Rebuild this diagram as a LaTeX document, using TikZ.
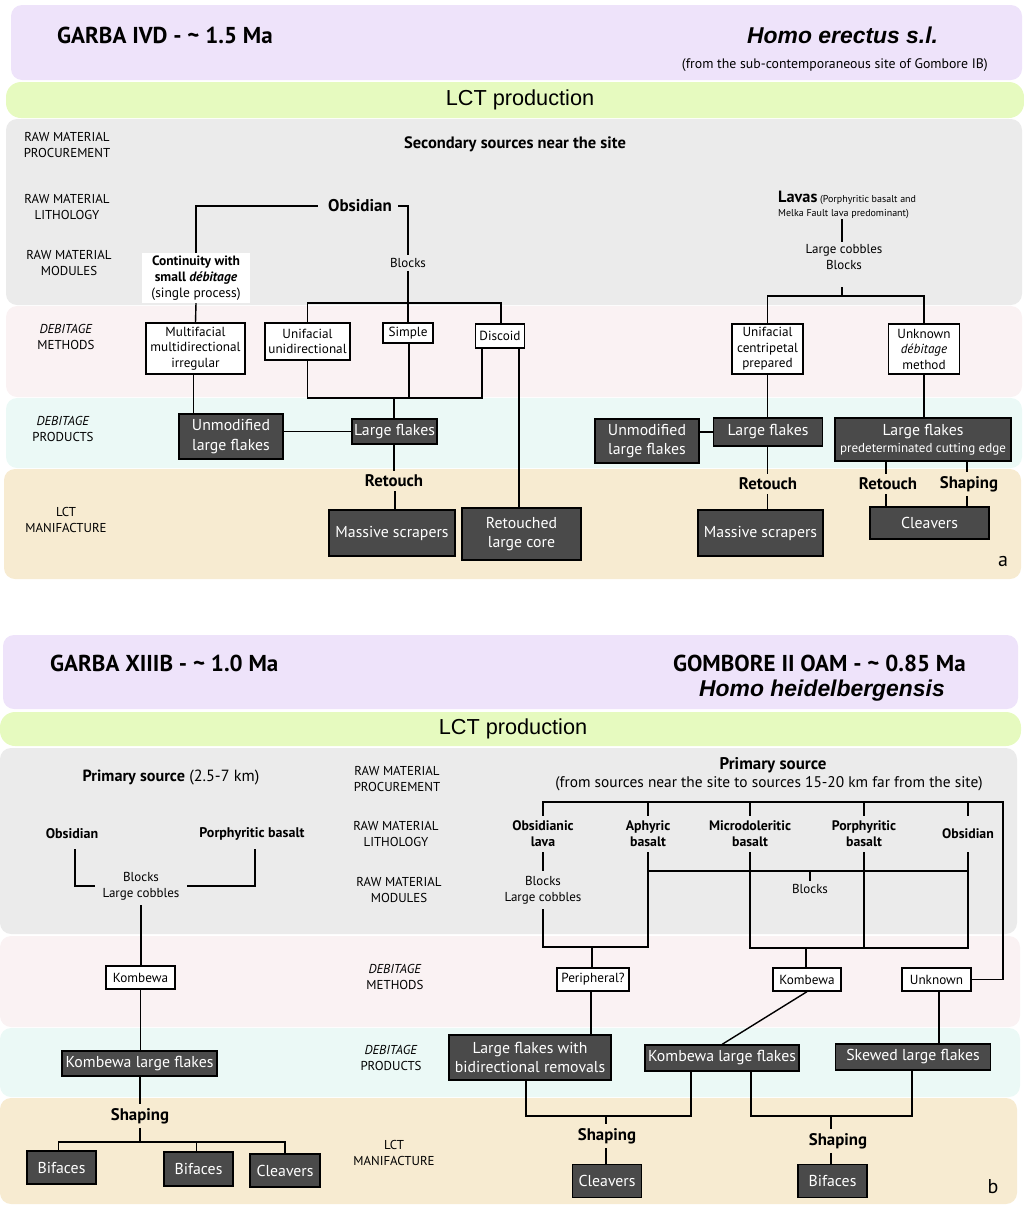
\documentclass[tikz,border=0pt]{standalone}
\usepackage{fontspec}
\setmainfont{PT Sans}
\newfontfamily\arialf{Liberation Sans}
\definecolor{cpur}{HTML}{EEE3FA}
\definecolor{cgrn}{HTML}{E6FABF}
\definecolor{cgry}{HTML}{EBEBEB}
\definecolor{cpnk}{HTML}{FAF2F3}
\definecolor{ccyn}{HTML}{EBF9F6}
\definecolor{cbge}{HTML}{F7EBD1}
\definecolor{cdrk}{HTML}{4A4A4A}
\newcommand\fsz[2]{\fontsize{#1pt}{#2pt}\selectfont}
\begin{document}
\begin{tikzpicture}[x=1pt,y=-1pt,
  band/.style={rounded corners=11pt},
  ln/.style={line width=1.4pt},
  wb/.style={draw=black,fill=white,line width=1.3pt,align=center,inner sep=0pt,font=\fsz{13.2}{15.5}},
  db/.style={draw=black,fill=cdrk,text=white,line width=1.2pt,align=center,inner sep=0pt,font=\fsz{15.8}{19.5}},
  lab/.style={align=center,font=\fsz{12.9}{16},inner sep=0pt},
  bt/.style={align=center,font=\bfseries\fsz{16.8}{17},inner sep=4pt},
  lt/.style={align=center,font=\bfseries\fsz{13.8}{16},inner sep=0pt,minimum height=36pt},
  pl/.style={align=center,font=\fsz{13}{16},inner sep=4pt},
  ttl/.style={anchor=west,font=\bfseries\fsz{23}{28},inner sep=0pt},
  spc/.style={font=\arialf\bfseries\itshape\fsz{22.9}{26},inner sep=0pt},
  lct/.style={font=\arialf\fsz{21.7}{24},inner sep=0pt},
  pnl/.style={font=\fsz{20}{24},inner sep=0pt},
]
\useasboundingbox (0,0) rectangle (1024,1205);
% ---------------- bands, panel a
\fill[cpur,band] (11,5) rectangle (1022,80);
\fill[cgrn,rounded corners=15pt] (6,82) rectangle (1024,118);
\fill[cgry,band] (6,119) rectangle (1022,305);
\fill[cpnk,band] (6,306) rectangle (1022,397);
\fill[ccyn,band] (6,398) rectangle (1022,468);
\fill[cbge,band] (4,469) rectangle (1021,579);
% ---------------- bands, panel b
\fill[cpur,band] (3,635) rectangle (1018,709);
\fill[cgrn,rounded corners=15pt] (0,712) rectangle (1021,746);
\fill[cgry,band] (0,748) rectangle (1017,934);
\fill[cpnk,band] (0,936) rectangle (1020,1027);
\fill[ccyn,band] (0,1028) rectangle (1020,1097);
\fill[cbge,band] (0,1098) rectangle (1017,1204);

% ================= PANEL A =================
\node[ttl] (ta) at (57,35) {GARBA IVD - \textasciitilde\ 1.5 Ma};
\node[spc,anchor=west] (sa) at (747,35) {Homo erectus s.l.};
\node[font=\fsz{13.8}{15},inner sep=0pt,anchor=east] (fa) at (988,65) {(from the sub-contemporaneous site of Gombore IB)};
\node[lct] (lcta) at (520,100) {LCT production};

\node[lab] (la1) at (67,145) {RAW MATERIAL\\PROCUREMENT};
\node[lab] (la2) at (67,207) {RAW MATERIAL\\LITHOLOGY};
\node[lab] (la3) at (69,263) {RAW MATERIAL\\MODULES};
\node[lab] (la4) at (66,337) {\textit{DEBITAGE}\\METHODS};
\node[lab] (la5) at (63,429) {\textit{DEBITAGE}\\PRODUCTS};
\node[lab] (la6) at (66,520) {LCT\\MANIFACTURE};

\node[inner sep=0pt,font=\bfseries\fsz{16.5}{17}] (sec) at (515,144) {Secondary sources near the site};
\node[inner sep=0pt,font=\bfseries\fsz{17}{17}] (obs) at (360,206) {Obsidian};
\node[pl,inner sep=3pt] (blk1) at (408,263) {Blocks};
\node[fill=white,align=center,minimum width=108pt,minimum height=50pt,inner sep=0pt,font=\fsz{13.5}{16}] (cont) at (196,278) {\textbf{Continuity with}\\\textbf{small \textit{débitage}}\\(single process)};

\node[wb,minimum width=99pt,minimum height=51pt] (multi) at (195.5,348.5) {Multifacial\\multidirectional\\irregular};
\node[wb,minimum width=85pt,minimum height=37pt] (uniuni) at (307.5,341.5) {Unifacial\\unidirectional};
\node[wb,minimum width=50pt,minimum height=20pt] (simple) at (408,333) {Simple};
\node[wb,minimum width=49pt,minimum height=24pt] (discoid) at (500,336) {Discoid};

\node[db,minimum width=104pt,minimum height=45pt] (unmod1) at (231,436.5) {Unmodified\\large flakes};
\node[db,minimum width=85pt,minimum height=25pt] (lf1) at (394.5,431.5) {Large flakes};
\node[bt] (ret1) at (394,481) {Retouch};
\node[db,minimum width=126pt,minimum height=46pt] (ms1) at (392,533) {Massive scrapers};
\node[db,minimum width=119pt,minimum height=52pt] (rlc) at (521.5,534) {Retouched\\large core};

\node[anchor=north west,align=left,inner sep=0pt,font=\fsz{10}{14}] (lav) at (778,191) {{\bfseries\fsz{16.3}{14}Lavas} (Porphyritic basalt and\\Melka Fault lava predominant)};
\node[pl,inner sep=2pt] (cob) at (844,257) {Large cobbles\\Blocks};
\coordinate (j3a) at (842,287);
\coordinate (j3) at (842,296);
\node[wb,minimum width=71pt,minimum height=50pt] (unicent) at (767.5,349) {Unifacial\\centripetal\\prepared};
\node[wb,minimum width=71pt,minimum height=50pt] (unk1) at (924,349) {Unknown\\\textit{débitage}\\method};
\node[db,minimum width=104pt,minimum height=44pt] (unmod2) at (647,441) {Unmodified\\large flakes};
\node[db,minimum width=109pt,minimum height=28pt] (lf2) at (768,432) {Large flakes};
\node[db,minimum width=176pt,minimum height=43pt] (lfp) at (923,439.5) {Large flakes\\[-3pt]{\fsz{13}{15}predeterminated cutting edge}};
\node[bt] (ret2) at (768,484) {Retouch};
\node[db,minimum width=125pt,minimum height=46pt] (ms2) at (760.5,533) {Massive scrapers};
\node[bt] (ret3) at (888,484) {Retouch};
\node[bt] (shp1) at (969,484) {Shaping};
\node[db,minimum width=119pt,minimum height=32pt] (clv1) at (929.5,523) {Cleavers};
\node[pnl] (pa) at (1003,561) {a};

\coordinate (j1) at (408,303);
\coordinate (j2) at (394,398);
\begin{scope}[ln]
\draw ([xshift=-10pt]obs.west) -| (cont.north);
\draw ([xshift=6pt]obs.east) -| (blk1.north);
\draw (blk1.south) -- (j1);
\draw (uniuni.north) -- (uniuni.north |- j1) -- ([xshift=1pt]discoid.north |- j1) -- ([xshift=1pt]discoid.north);
\draw (j1) -- (simple.north);
\draw (cont.south) -- (multi.north);
\draw (uniuni.south) -- (uniuni.south |- j2) -- ([xshift=-18pt]discoid.south |- j2) -- ([xshift=-18pt]discoid.south);
\draw ([xshift=1pt]simple.south) -- ([xshift=1pt]simple.south |- j2);
\draw (j2) -- (j2 |- lf1.north);
\draw ([xshift=19pt]discoid.south) -- ([xshift=19pt]discoid.south |- rlc.north);
\draw ([xshift=-2pt]multi.south) -- ([xshift=-2pt]multi.south |- unmod1.north);
\draw (unmod1.east |- lf1.west) -- (lf1.west);
\draw (lf1.south -| ret1.north) -- (ret1.north);
\draw ([xshift=1pt]ret1.south) -- ([xshift=1pt]ret1.south |- ms1.north);

\draw (lav.south -| j3a) -- (j3a |- cob.north);
\draw (j3a) -- (j3);
\draw (unicent.north) |- (j3) -| (unk1.north);
\draw (unicent.south) -- (unicent.south |- lf2.north);
\draw (unmod2.east |- lf2.west) -- (lf2.west);
\draw (lf2.south -| unicent.south) -- (unicent.south |- ret2.north);
\draw (unicent.south |- ret2.south) -- (unicent.south |- ms2.north);
\draw (unk1.south) -- (unk1.south |- lfp.north);
\draw ([xshift=-2pt]lfp.south -| ret3.north) -- ([xshift=-2pt]ret3.north);
\draw ([xshift=-2pt]ret3.south) -- ([xshift=-2pt]ret3.south |- clv1.north);
\draw ([xshift=-2pt]lfp.south -| shp1.north) -- ([xshift=-2pt]shp1.north);
\draw ([xshift=-2pt]shp1.south) -- ([xshift=-2pt]shp1.south |- clv1.north);
\end{scope}

% ================= PANEL B =================
\node[ttl] (tb) at (50,663) {GARBA XIIIB - \textasciitilde\ 1.0 Ma};
\node[ttl,anchor=east] (tc) at (966,663) {GOMBORE II OAM - \textasciitilde\ 0.85 Ma};
\node[spc,anchor=east] (sb) at (945,691) {Homo heidelbergensis};
\node[lct] (lctb) at (513,729) {LCT production};

\node[lab] (lb1) at (397,779) {RAW MATERIAL\\PROCUREMENT};
\node[lab] (lb2) at (396,834) {RAW MATERIAL\\LITHOLOGY};
\node[lab] (lb3) at (399,890) {RAW MATERIAL\\MODULES};
\node[lab] (lb4) at (395,977) {\textit{DEBITAGE}\\METHODS};
\node[lab] (lb5) at (391,1058) {\textit{DEBITAGE}\\PRODUCTS};
\node[lab] (lb6) at (394,1153) {LCT\\MANIFACTURE};

% left tree
\node[inner sep=0pt,font=\fsz{16.2}{17}] (ps1) at (171,778) {\textbf{Primary source} (2.5-7 km)};
\node[inner sep=0pt,font=\bfseries\fsz{14}{16},minimum height=30pt] (obs2) at (72,834) {Obsidian};
\node[inner sep=0pt,font=\bfseries\fsz{14}{16},minimum height=30pt] (pb) at (252,834) {Porphyritic basalt};
\node[pl,inner xsep=7pt,inner ysep=5pt] (blk2) at (141,886) {Blocks\\Large cobbles};
\node[wb,minimum width=69pt,minimum height=23pt] (komb1) at (140.5,977.5) {Kombewa};
\node[db,minimum width=155pt,minimum height=25pt] (klf1) at (139.5,1063.5) {Kombewa large flakes};
\node[bt] (shp2) at (140,1116) {Shaping};
\coordinate (j4) at (140,1142);
\node[db,minimum width=69pt,minimum height=33pt] (bif1) at (61.5,1167.5) {Bifaces};
\node[db,minimum width=69pt,minimum height=34pt] (bif2) at (198.5,1169) {Bifaces};
\node[db,minimum width=70pt,minimum height=33pt] (clv2) at (285,1170.5) {Cleavers};

% right tree
\node[inner sep=0pt,font=\bfseries\fsz{16.9}{17}] (ps2) at (773,765) {Primary source};
\node[inner sep=0pt,font=\fsz{15.4}{17}] (ps3) at (769,784) {(from sources near the site to sources 15-20 km far from the site)};
\coordinate (rc) at (1003,802);
\node[lt] (obl) at (543,834) {Obsidianic\\lava};
\node[lt] (aph) at (648,834) {Aphyric\\basalt};
\node[lt] (mic) at (750,834) {Microdoleritic\\basalt};
\node[lt] (por) at (864,834) {Porphyritic\\basalt};
\node[lt] (obs3) at (968,834) {Obsidian};
\node[pl,inner sep=5pt] (blk3) at (543,890) {Blocks\\Large cobbles};
\node[pl,inner sep=3pt] (blk4) at (810,889) {Blocks};
\coordinate (jm) at (810,871);
\coordinate (jp) at (592,947);
\coordinate (jk) at (806,948);
\node[wb,minimum width=72pt,minimum height=23pt] (peri) at (593,979.5) {Peripheral?};
\node[wb,minimum width=68pt,minimum height=23pt] (komb2) at (807,979.5) {Kombewa};
\node[wb,minimum width=69pt,minimum height=23pt] (unk2) at (936.5,979.5) {Unknown};
\node[db,minimum width=162pt,minimum height=45pt] (lfbi) at (530,1057.5) {Large flakes with\\bidirectional removals};
\node[db,minimum width=154pt,minimum height=26pt] (klf2) at (722,1058) {Kombewa large flakes};
\node[db,minimum width=155pt,minimum height=26pt] (skew) at (913,1057) {Skewed large flakes};
\coordinate (js1) at (606,1116);
\coordinate (js2) at (831,1116);
\node[bt] (shp3) at (607,1136) {Shaping};
\node[bt] (shp4) at (838,1141) {Shaping};
\node[db,minimum width=69pt,minimum height=33pt] (clv3) at (607,1181) {Cleavers};
\node[db,minimum width=69pt,minimum height=33pt] (bif3) at (832.5,1181) {Bifaces};
\node[pnl] (pb2) at (993,1187) {b};

\begin{scope}[ln]
% left tree
\draw ([xshift=3pt]obs2.south) |- (blk2.west);
\draw ([xshift=3pt]pb.south) |- (blk2.east);
\draw (blk2.south) -- (blk2.south |- komb1.north);
\draw (komb1.south) -- (komb1.south |- klf1.north);
\draw (klf1.south -| shp2.north) -- (shp2.north);
\draw (shp2.south) -- (j4);
\draw ([xshift=-3pt]bif1.north) |- (j4) -| (clv2.north);
\draw ([xshift=-2pt]bif2.north |- j4) -- ([xshift=-2pt]bif2.north);
% right tree
\draw (obl.north) |- (rc) |- (unk2.east);
\draw (aph.north) -- (aph.north |- rc);
\draw (mic.north) -- (mic.north |- rc);
\draw (por.north) -- (por.north |- rc);
\draw (obs3.north) -- (obs3.north |- rc);
\draw (obl.south) -- (blk3.north);
\draw (blk3.south) |- (jp) -| (aph.south);
\draw (jp) -- (jp |- peri.north);
\draw (aph.south |- jm) -- (obs3.south |- jm);
\draw (jm) -- (blk4.north);
\draw (mic.south) |- (jk) -| (obs3.south);
\draw (por.south) -- (por.south |- jk);
\draw (jk) -- (jk |- komb2.north);
\draw ([xshift=-2pt]peri.south) -- ([xshift=-2pt]peri.south |- lfbi.north);
\draw (komb2.south) -- (klf2.north);
\draw ([xshift=2.5pt]unk2.south) -- ([xshift=2.5pt]unk2.south |- skew.north);
\draw ([xshift=-4pt]lfbi.south) |- (js1) -| ([xshift=-31pt]klf2.south);
\draw (js1) -- (js1 |- shp3.north);
\draw (js1 |- shp3.south) -- (js1 |- clv3.north);
\draw ([xshift=29pt]klf2.south) |- (js2) -| ([xshift=-1pt]skew.south);
\draw (js2) -- (js2 |- shp4.north);
\draw (js2 |- shp4.south) -- (js2 |- bif3.north);
\end{scope}
\end{tikzpicture}
\end{document}
